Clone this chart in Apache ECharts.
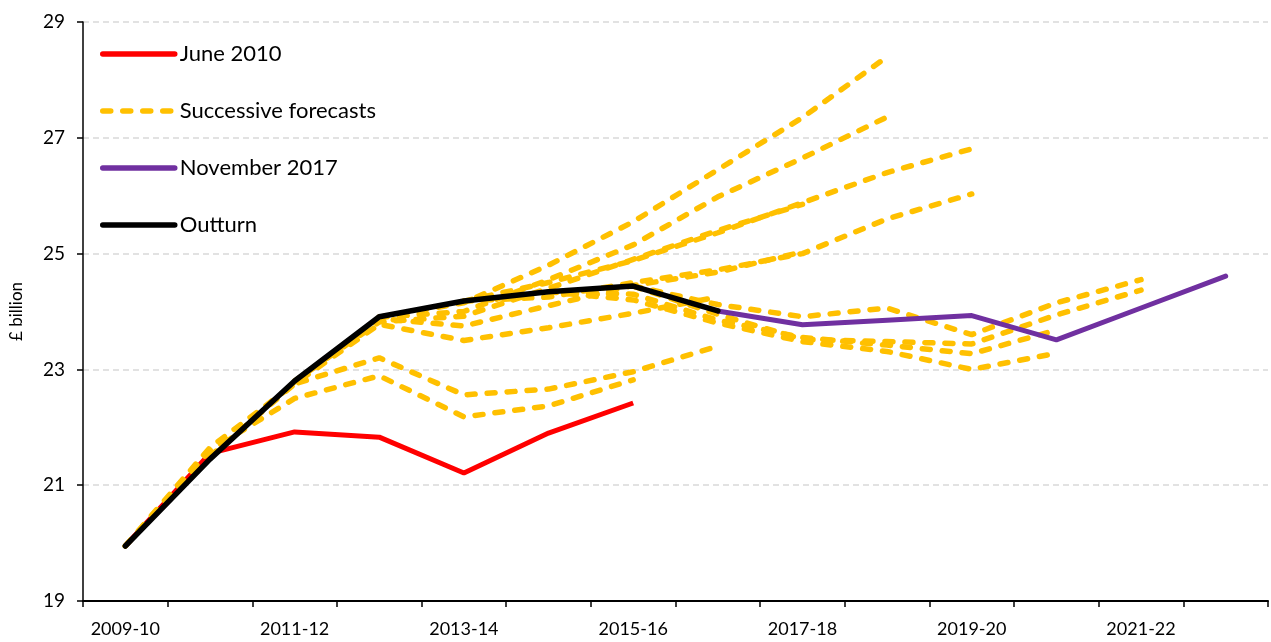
<!DOCTYPE html>
<html>
<head>
<meta charset="utf-8">
<script src="https://cdn.jsdelivr.net/npm/echarts@6/dist/echarts.min.js"></script>
<style>html,body{margin:0;padding:0;background:#fff;}#chart{width:1271px;height:642px;}</style>
</head>
<body>
<div id="chart"></div>
<script>
const categories = ['2009-10','2010-11','2011-12','2012-13','2013-14','2014-15','2015-16','2016-17','2017-18','2018-19','2019-20','2020-21','2021-22','2022-23'];
const yTicks = [19, 21, 23, 25, 27, 29];
const june2010   = [19.95, 21.55, 21.92, 21.83, 21.21, 21.9, 22.42, null, null, null, null, null, null, null];
const outturn    = [19.95, 21.45, 22.8, 23.91, 24.18, 24.34, 24.44, 24.01, null, null, null, null, null, null];
const november2017 = [null, null, null, null, null, null, null, 24.01, 23.77, 23.85, 23.93, 23.51, 24.06, 24.61];
// successive forecasts
const fc1  = [19.95, 21.6, 22.5, 22.89, 22.18, 22.37, 22.82, null, null, null, null, null, null, null];
const fc2  = [19.95, 21.65, 22.75, 23.2, 22.56, 22.66, 22.96, 23.4, null, null, null, null, null, null];
const fc3  = [null, 21.5, 22.75, 23.78, 23.5, 23.72, 23.97, 24.25, null, null, null, null, null, null];
const fc4  = [null, null, 22.78, 23.88, 23.75, 24.1, 24.45, 24.68, 25.03, null, null, null, null, null];
const fc5  = [null, null, 22.8, 23.82, 23.92, 24.4, 24.9, 25.4, 25.85, null, null, null, null, null];
const fc6  = [null, null, null, 23.9, 24.0, 24.55, 25.15, 25.98, 26.65, 27.36, null, null, null, null];
const fc7  = [null, null, null, 23.9, 24.15, 24.8, 25.55, 26.45, 27.35, 28.4, null, null, null, null];
const fc8  = [null, null, null, null, 24.18, 24.25, 24.5, 24.72, 25.0, 25.6, 26.03, null, null, null];
const fc9  = [null, null, null, null, 24.18, 24.5, 24.88, 25.36, 25.88, 26.4, 26.81, null, null, null];
const fc10 = [null, null, null, null, null, 24.34, 24.3, 23.85, 23.55, 23.42, 23.27, 23.68, null, null];
const fc11 = [null, null, null, null, null, 24.34, 24.2, 23.8, 23.48, 23.31, 23.0, 23.28, null, null];
const fc12 = [null, null, null, null, null, null, 24.44, 24.12, 23.91, 24.06, 23.6, 24.15, 24.55, null];
const fc13 = [null, null, null, null, null, null, 24.44, 23.95, 23.52, 23.48, 23.44, 23.94, 24.37, null];
const forecasts = [fc1, fc2, fc3, fc4, fc5, fc6, fc7, fc8, fc9, fc10, fc11, fc12, fc13];

const FONT = 'Lato';
const chart = echarts.init(document.getElementById('chart'));

const series = [];
forecasts.forEach(function (d) {
  series.push({
    name: 'Successive forecasts', type: 'line', data: d, symbol: 'none', z: 2,
    lineStyle: { color: '#FFC000', width: 5.5, type: [8, 12], cap: 'round' },
    itemStyle: { color: '#FFC000' }
  });
});
series.unshift({
  name: 'June 2010', type: 'line', data: june2010, symbol: 'none', z: 1,
  lineStyle: { color: '#FF0000', width: 5 }, itemStyle: { color: '#FF0000' }
});
series.push({
  name: 'November 2017', type: 'line', data: november2017, symbol: 'none', z: 4,
  lineStyle: { color: '#7030A0', width: 5, cap: 'round' }, itemStyle: { color: '#7030A0' }
});
series.push({
  name: 'Outturn', type: 'line', data: outturn, symbol: 'none', z: 5,
  lineStyle: { color: '#000000', width: 5.5, cap: 'round' }, itemStyle: { color: '#000000' }
});

chart.setOption({
  animation: false,
  backgroundColor: '#ffffff',
  textStyle: { fontFamily: FONT },
  grid: { left: 80, right: 3, top: 22, bottom: 41, containLabel: false },
  legend: {
    data: ['June 2010', 'Successive forecasts', 'November 2017', 'Outturn'],
    orient: 'vertical', left: 100, top: 43, padding: 0,
    itemWidth: 72, itemHeight: 20, itemGap: 35,
    lineStyle: { width: 5.5, cap: 'round' },
    itemStyle: { opacity: 0 },
    textStyle: { fontFamily: FONT, fontSize: 22, color: '#000', padding: [0, 0, 0, 0] },
    selectedMode: false
  },
  xAxis: {
    type: 'category', data: categories, boundaryGap: true,
    axisLine: { lineStyle: { color: '#000', width: 2 } },
    axisTick: { show: true, alignWithLabel: false, interval: 0, length: 6, lineStyle: { color: '#000', width: 1.5 } },
    axisLabel: { interval: 1, color: '#000', fontSize: 18, margin: 19, fontFamily: FONT },
    splitLine: { show: false }
  },
  yAxis: {
    type: 'value', min: yTicks[0], max: yTicks[yTicks.length - 1], interval: 2,
    name: '£ billion', nameLocation: 'middle', nameGap: 58, nameRotate: 90,
    nameTextStyle: { fontSize: 17, color: '#000', fontFamily: FONT },
    axisLine: { show: true, lineStyle: { color: '#000', width: 1.5 } },
    axisTick: { show: true, length: 6, lineStyle: { color: '#000', width: 1.5 } },
    axisLabel: { color: '#000', fontSize: 19, margin: 18, fontFamily: FONT },
    splitLine: { show: true, lineStyle: { color: '#d9d9d9', width: 1.5, type: [6, 4] } }
  },
  series: series
});
</script>
</body>
</html>
